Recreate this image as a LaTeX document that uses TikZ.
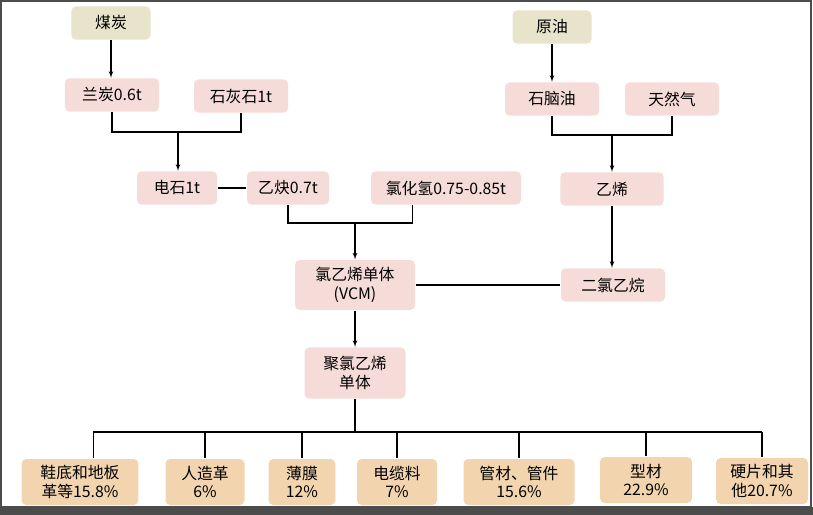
\documentclass[tikz,border=0pt]{standalone}
\usepackage{fontspec}
\setmainfont{Noto Sans CJK SC}
\usepackage{tikz}
\usetikzlibrary{arrows}
\usetikzlibrary{calc}
\usetikzlibrary{positioning}
\definecolor{pinkfill}{HTML}{F6DCD8}
\definecolor{rawfill}{HTML}{E8E4CB}
\definecolor{usefill}{HTML}{F2D4AF}
\tikzstyle{raw} = [fill=rawfill, rounded corners=4pt,
    minimum width=2.37cm, minimum height=1cm]
\tikzstyle{block} = [fill=pinkfill, rounded corners=4pt,
    minimum height=1cm, align=center, inner sep=2pt]
\tikzstyle{use} = [fill=usefill, rounded corners=4pt,
    minimum height=1.38cm, align=center, inner sep=2pt]
\tikzstyle{input} = [coordinate]

\begin{document}
\begin{tikzpicture}[x=0.03cm, y=-0.03cm, >=latex', line width=0.9pt,
    font=\fontsize{13.5}{16}\selectfont]

    \useasboundingbox (0,0) rectangle (813,515);
    \fill[white] (0,0) rectangle (813,515);
    \fill[black!70] (0,507) rectangle (813,515);
    \draw[black!70, line width=1pt] (1,1) rectangle (811,507);

    % raw materials
    \node[raw] at (111,23) (coal) {煤炭};
    \node[raw] at (552,27) (oil) {原油};

    \node[block, minimum width=2.82cm] at (112,95) (semicoke) {兰炭0.6t};
    \node[block, minimum width=2.82cm] at (241,96) (lime) {石灰石1t};
    \node[block, minimum width=2.82cm] at (552,99) (naphtha) {石脑油};
    \node[block, minimum width=2.82cm] at (672,99) (gas) {天然气};

    \node[block, minimum width=2.4cm] at (177,188) (carbide) {电石1t};
    \node[block, minimum width=2.46cm] at (288,188) (acetylene) {乙炔0.7t};
    \node[block, minimum width=4.5cm] at (446,188) (hcl) {氯化氢0.75-0.85t};
    \node[block, minimum width=3.1cm] at (612,189) (ethylene) {乙烯};

    \node[block, minimum width=3.6cm, minimum height=1.5cm] at (355,285) (vcm) {氯乙烯单体\\(VCM)};
    \node[block, minimum width=3.12cm] at (613,285) (edc) {二氯乙烷};
    \node[block, minimum width=3.03cm, minimum height=1.53cm] at (355,373) (pvc) {聚氯乙烯\\单体};

    % end uses
    \node[use, minimum width=3.5cm] at (80,482) (shoe) {鞋底和地板\\革等15.8\%};
    \node[use, minimum width=2.37cm] at (205,482) (leather) {人造革\\6\%};
    \node[use, minimum width=2.0cm] at (302,482) (film) {薄膜\\12\%};
    \node[use, minimum width=2.4cm] at (397,482) (cable) {电缆料\\7\%};
    \node[use, minimum width=3.33cm] at (519,482) (pipe) {管材、管件\\15.6\%};
    \node[use, minimum width=2.76cm] at (646,480) (profile) {型材\\22.9\%};
    \node[use, minimum width=2.76cm] at (762,481) (hard) {硬片和其\\他20.7\%};

    % coal route
    \draw[->] (coal.south) -- (coal.south |- semicoke.north);
    \node[input] at (178,132) (join1) {};
    \draw (semicoke.south) |- (join1);
    \draw (lime.south) |- (join1);
    \draw[->] (join1) -- (join1 |- carbide.north);
    \draw (carbide) -- (acetylene);
    \node[input] at (355,223) (join2) {};
    \draw (acetylene.south) |- (join2);
    \draw ([xshift=-1cm]hcl.south) |- (join2);
    \draw[->] (join2) -- (vcm.north);

    % oil route
    \draw[->] (oil) -- (naphtha);
    \node[input] at (612,135) (join3) {};
    \draw (naphtha.south) |- (join3);
    \draw (gas.south) |- (join3);
    \draw[->] (join3) -- (ethylene);
    \draw[->] (ethylene.south) -- (ethylene.south |- edc.north);
    \draw (vcm) -- (edc);

    \draw[->] (vcm) -- (pvc);
    \node[input] at (355,432) (bus) {};
    \draw (pvc) -- (bus);
    \draw ([xshift=0.4cm]shoe.north |- bus) -- (hard.north |- bus);
    \draw ([xshift=0.4cm]shoe.north |- bus) -- ([xshift=0.4cm]shoe.north);
    \foreach \n in {leather,film,cable,pipe,profile,hard}
        \draw (\n.north |- bus) -- (\n.north);
\end{tikzpicture}
\end{document}
